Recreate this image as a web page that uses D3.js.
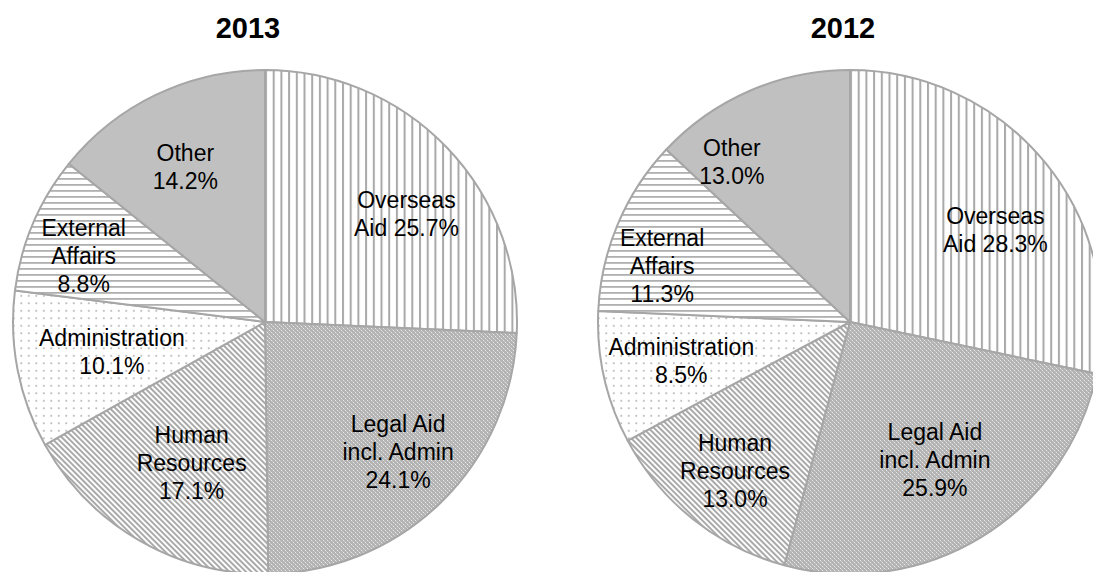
<!DOCTYPE html>
<html>
<head>
<meta charset="utf-8">
<script src="https://cdn.jsdelivr.net/npm/d3@7"></script>
<style>
  html, body { margin: 0; padding: 0; background: #fff; }
  svg { display: block; }
  text { font-family: "Liberation Sans", Arial, sans-serif; fill: #000; }
</style>
</head>
<body>
<svg id="chart" width="1093" height="572"></svg>
<script>
// Budget share by area, two years
const categories = ["Overseas Aid", "Legal Aid incl. Admin", "Human Resources", "Administration", "External Affairs", "Other"];
const labelLines = [
  ["Overseas", "Aid {v}"],
  ["Legal Aid", "incl. Admin", "{v}"],
  ["Human", "Resources", "{v}"],
  ["Administration", "{v}"],
  ["External", "Affairs", "{v}"],
  ["Other", "{v}"]
];
const years = ["2013", "2012"];
const values2013 = [25.7, 24.1, 17.1, 10.1, 8.8, 14.2];
const values2012 = [28.3, 25.9, 13.0, 8.5, 11.3, 13.0];

// Label placement: radius as fraction of the pie radius, and angular nudge in degrees
const labelLayout = {
  "2013": { r: [0.706, 0.738, 0.631, 0.619, 0.766, 0.69], da: [6.4, -1.6, -2.6, 0, -3, -1.7] },
  "2012": { r: [0.683, 0.643, 0.746, 0.687, 0.778, 0.79], da: [6.7, -0.1, -0.8, -0.2, -6.3, -13] }
};

const svg = d3.select("#chart");
const defs = svg.append("defs");

// Fill patterns, one per category
function pattern(id, w, h, transform) {
  const p = defs.append("pattern")
    .attr("id", id).attr("patternUnits", "userSpaceOnUse")
    .attr("width", w).attr("height", h);
  if (transform) p.attr("patternTransform", transform);
  return p;
}
// vertical lines
let p = pattern("p0", 7.7, 10);
p.append("rect").attr("width", 7.7).attr("height", 10).attr("fill", "#fff");
p.append("rect").attr("x", 0).attr("width", 2).attr("height", 10).attr("fill", "#a9a9a9");
// small diamond lattice
p = pattern("p1", 4, 4);
p.append("rect").attr("width", 4).attr("height", 4).attr("fill", "#b3b3b3");
p.append("rect").attr("x", 0).attr("y", 0).attr("width", 1).attr("height", 1).attr("fill", "#e8e8e8");
p.append("rect").attr("x", 2).attr("y", 2).attr("width", 1).attr("height", 1).attr("fill", "#e8e8e8");
p.append("rect").attr("x", 1).attr("y", 1).attr("width", 1).attr("height", 1).attr("fill", "#cacaca");
p.append("rect").attr("x", 3).attr("y", 3).attr("width", 1).attr("height", 1).attr("fill", "#cacaca");
// diagonal stripes "\"
p = pattern("p2", 3.9, 10, "rotate(-45)");
p.append("rect").attr("width", 3.9).attr("height", 10).attr("fill", "#fff");
p.append("rect").attr("width", 2).attr("height", 10).attr("fill", "#a9a9a9");
// dots
p = pattern("p3", 7.5, 7.5);
p.append("rect").attr("width", 7.5).attr("height", 7.5).attr("fill", "#fff");
p.append("rect").attr("x", 3).attr("y", 3).attr("width", 1.6).attr("height", 1.6).attr("fill", "#a8a8a8");
// horizontal lines
p = pattern("p4", 10, 6);
p.append("rect").attr("width", 10).attr("height", 6).attr("fill", "#fff");
p.append("rect").attr("y", 0).attr("width", 10).attr("height", 1.8).attr("fill", "#b0b0b0");

const fills = ["url(#p0)", "url(#p1)", "url(#p2)", "url(#p3)", "url(#p4)", "#c0c0c0"];

const radius = 252;
const centersX = { "2013": 265, "2012": 850 };
const titleX = { "2013": 248, "2012": 843 };
const centerY = 322;

const pie = d3.pie().sort(null).value(d => d.value);
const arc = d3.arc().innerRadius(0).outerRadius(radius);

function drawPie(year, values) {
  const data = categories.map((c, i) => ({ category: c, value: values[i], i }));
  const g = svg.append("g").attr("transform", `translate(${centersX[year]},${centerY})`);
  const arcs = pie(data);

  g.selectAll("path.slice").data(arcs).join("path")
    .attr("class", "slice")
    .attr("d", arc)
    .attr("fill", d => fills[d.data.i])
    .attr("stroke", "#a6a6a6")
    .attr("stroke-width", 2)
    .attr("stroke-linejoin", "round");

  const lay = labelLayout[year];
  const lineH = 28;
  const labels = g.selectAll("text.label").data(arcs).join("text")
    .attr("class", "label")
    .attr("text-anchor", "middle")
    .attr("font-size", 23)
    .attr("transform", d => {
      const i = d.data.i;
      const a = (d.startAngle + d.endAngle) / 2 + lay.da[i] * Math.PI / 180;
      const rr = radius * lay.r[i];
      return `translate(${rr * Math.sin(a)},${-rr * Math.cos(a)})`;
    });
  labels.each(function (d) {
    const lines = labelLines[d.data.i].map(s => s.replace("{v}", d.data.value.toFixed(1) + "%"));
    const n = lines.length;
    d3.select(this).selectAll("tspan").data(lines).join("tspan")
      .attr("x", 0)
      .attr("y", (s, k) => (k - (n - 1) / 2) * lineH)
      .attr("dy", "0.35em")
      .text(s => s);
  });

  svg.append("text")
    .attr("x", titleX[year]).attr("y", 38)
    .attr("text-anchor", "middle")
    .attr("font-size", 29).attr("font-weight", "bold")
    .text(year);
}

drawPie("2013", values2013);
drawPie("2012", values2012);
</script>
</body>
</html>
